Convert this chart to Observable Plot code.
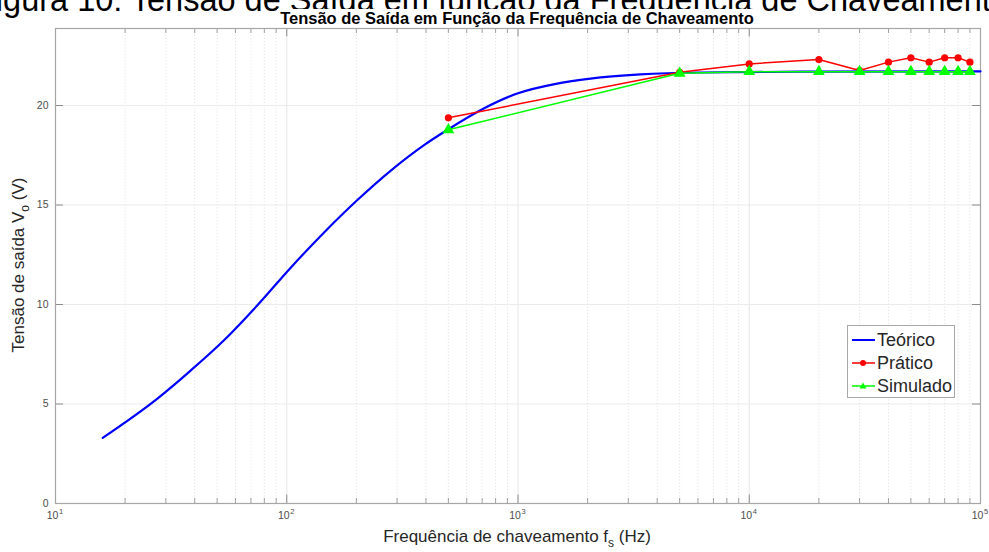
<!DOCTYPE html>
<html>
<head>
<meta charset="utf-8">
<script src="https://cdn.jsdelivr.net/npm/d3@7"></script>
<script src="https://cdn.jsdelivr.net/npm/@observablehq/plot@0.6"></script>
<style>
  body { margin: 0; background: #fff; }
  #wrap { position: relative; width: 989px; height: 552px; overflow: hidden; font-family: "Liberation Sans", Arial, Helvetica, sans-serif; }
  #wrap > div { position: absolute; }
  #chart { left: 0; top: 0; width: 989px; height: 552px; }
  #chart svg { display: block; max-width: none; }
  .caption { left: -24px; top: -16px; font-size: 32.5px; line-height: 32px; white-space: nowrap; color: #000; }
  .title { left: 0; width: 1034px; top: 10px; line-height: 17px; text-align: center; font-size: 16.5px; font-weight: bold; color: #000; white-space: nowrap; }
  .title span { background: #fff; padding: 0 3px; }
  .xlabel { left: 0; width: 1034px; top: 527px; text-align: center; font-size: 17px; color: #262626; white-space: nowrap; }
  .xlabel sub, .ylabel sub { font-size: 12px; vertical-align: -5px; }
  .ylabel { left: 20px; top: 265px; transform: translate(-50%, -50%) rotate(-90deg); font-size: 17px; color: #262626; white-space: nowrap; }
  .legend { left: 847px; top: 325px; width: 108px; height: 73px; border: 1px solid #a8a8a8; background: #fff; box-sizing: border-box; }
  .legend .row { position: absolute; left: 3px; height: 22px; display: flex; align-items: center; font-size: 18px; color: #262626; }
  .legend svg { margin-right: 1px; }
</style>
</head>
<body>
<div id="wrap">
  <div id="chart"></div>
  <div class="caption">Figura 10: Tensão de Saída em função da Frequência de Chaveamento</div>
  <div class="title"><span>Tensão de Saída em Função da Frequência de Chaveamento</span></div>
  <div class="xlabel">Frequência de chaveamento f<sub>s</sub> (Hz)</div>
  <div class="ylabel">Tensão de saída V<sub>o</sub> (V)</div>
  <div class="legend" id="legend"></div>
</div>
<script>
// ---- data ----
const freqTeorico = [16, 27.5, 38.4, 53.4, 74.5, 104, 145, 202, 281, 391, 494, 711, 992, 1477, 2058, 3386, 6155, 16660, 100000];
const vTeorico    = [3.30, 5.26, 6.68, 8.19, 9.95, 11.85, 13.62, 15.25, 16.72, 18.0, 18.77, 19.85, 20.60, 21.10, 21.35, 21.56, 21.66, 21.70, 21.72];

const freqPratico = [500, 5000, 10000, 20000, 30000, 40000, 50000, 60000, 70000, 80000, 90000];
const vPratico    = [19.38, 21.67, 22.09, 22.31, 21.76, 22.18, 22.40, 22.18, 22.40, 22.40, 22.18];

const freqSimulado = [500, 5000, 10000, 20000, 30000, 40000, 50000, 60000, 70000, 80000, 90000];
const vSimulado    = [18.78, 21.62, 21.70, 21.70, 21.70, 21.70, 21.70, 21.70, 21.70, 21.70, 21.70];

const xTicks = [10, 100, 1000, 10000, 100000];
const xTickExp = ["1", "2", "3", "4", "5"];
const yTicks = [0, 5, 10, 15, 20];
const seriesNames = ["Teórico", "Prático", "Simulado"];
const seriesColors = ["#0000ff", "#ff0000", "#00ff00"];

// ---- tables ----
const teorico = freqTeorico.map((f, i) => ({f, v: vTeorico[i]}));
const pratico = freqPratico.map((f, i) => ({f, v: vPratico[i]}));
const simulado = freqSimulado.map((f, i) => ({f, v: vSimulado[i]}));
const minor = [];
for (const d of [10, 100, 1000, 10000]) for (let k = 2; k <= 9; k++) minor.push(d * k);
const majorInner = xTicks.slice(1, -1);
const yInner = yTicks.slice(1);

const yMax = 23.87;
const xTickLenMajor = 0.42, xTickLenMinor = 0.25; // in y units
const yTickFactor = 1.083; // ~8px on the log axis

const chart = Plot.plot({
  width: 989,
  height: 552,
  marginLeft: 55,
  marginRight: 9,
  marginTop: 28,
  marginBottom: 49,
  style: {fontFamily: '"Liberation Sans", Arial, Helvetica, sans-serif', background: "transparent", overflow: "visible"},
  x: {type: "log", domain: [10, 100000], axis: null},
  y: {domain: [0, yMax], axis: null},
  marks: [
    // grid
    Plot.ruleX(minor, {x: d => d, y1: 0, y2: yMax, stroke: "#dcdcdc", strokeWidth: 0.8, strokeDasharray: "1.2,2"}),
    Plot.ruleX(majorInner, {x: d => d, y1: 0, y2: yMax, stroke: "#e6e6e6", strokeWidth: 1}),
    Plot.ruleY(yInner, {y: d => d, x1: 10, x2: 100000, stroke: "#ebebeb", strokeWidth: 1}),
    // inward ticks
    Plot.ruleX(minor, {x: d => d, y1: 0, y2: xTickLenMinor, stroke: "#8c8c8c", strokeWidth: 0.8}),
    Plot.ruleX(minor, {x: d => d, y1: yMax - xTickLenMinor, y2: yMax, stroke: "#8c8c8c", strokeWidth: 0.8}),
    Plot.ruleX(majorInner, {x: d => d, y1: 0, y2: xTickLenMajor, stroke: "#8c8c8c", strokeWidth: 1}),
    Plot.ruleX(majorInner, {x: d => d, y1: yMax - xTickLenMajor, y2: yMax, stroke: "#8c8c8c", strokeWidth: 1}),
    Plot.ruleY(yInner, {y: d => d, x1: 10, x2: 10 * yTickFactor, stroke: "#8c8c8c", strokeWidth: 1}),
    Plot.ruleY(yInner, {y: d => d, x1: 100000 / yTickFactor, x2: 100000, stroke: "#8c8c8c", strokeWidth: 1}),
    Plot.frame({stroke: "#a6a6a6", strokeWidth: 1.2}),
    // tick labels
    Plot.text(yTicks, {y: d => d, text: d => String(d), frameAnchor: "left", textAnchor: "end", dx: -7, fontSize: 10.5, fill: "#4d4d4d"}),
    Plot.text(xTicks, {x: d => d, text: () => "10", frameAnchor: "bottom", textAnchor: "middle", dx: -3, dy: 15, fontSize: 10.5, fill: "#4d4d4d"}),
    Plot.text(xTicks, {x: d => d, text: (d, i) => xTickExp[i], frameAnchor: "bottom", textAnchor: "start", dx: 3.5, dy: 10, fontSize: 7.5, fill: "#4d4d4d"}),
    // series
    Plot.line(teorico, {x: "f", y: "v", stroke: seriesColors[0], strokeWidth: 2.2, curve: "monotone-x"}),
    Plot.line(pratico, {x: "f", y: "v", stroke: seriesColors[1], strokeWidth: 1.5}),
    Plot.dot(pratico, {x: "f", y: "v", r: 3.6, fill: seriesColors[1], stroke: "none"}),
    Plot.line(simulado, {x: "f", y: "v", stroke: seriesColors[2], strokeWidth: 1.5}),
    Plot.dot(simulado, {x: "f", y: "v", r: 4.4, symbol: "triangle", fill: seriesColors[2], stroke: "none"})
  ]
});
document.getElementById("chart").appendChild(chart);

// legend
const legend = document.getElementById("legend");
seriesNames.forEach((name, i) => {
  const row = document.createElement("div");
  row.className = "row";
  row.style.top = (3 + i * 23) + "px";
  let glyph = "";
  if (i === 1) glyph = '<circle cx="12" cy="6" r="3" fill="' + seriesColors[i] + '"/>';
  if (i === 2) glyph = '<path d="M12,2.5 L15.5,8.5 L8.5,8.5 Z" fill="' + seriesColors[i] + '"/>';
  row.innerHTML = '<svg width="25" height="12"><line x1="1" y1="6" x2="24" y2="6" stroke="' + seriesColors[i] + '" stroke-width="' + (i === 0 ? 2 : 1.5) + '"/>' + glyph + '</svg><span>' + name + '</span>';
  legend.appendChild(row);
});
</script>
</body>
</html>
